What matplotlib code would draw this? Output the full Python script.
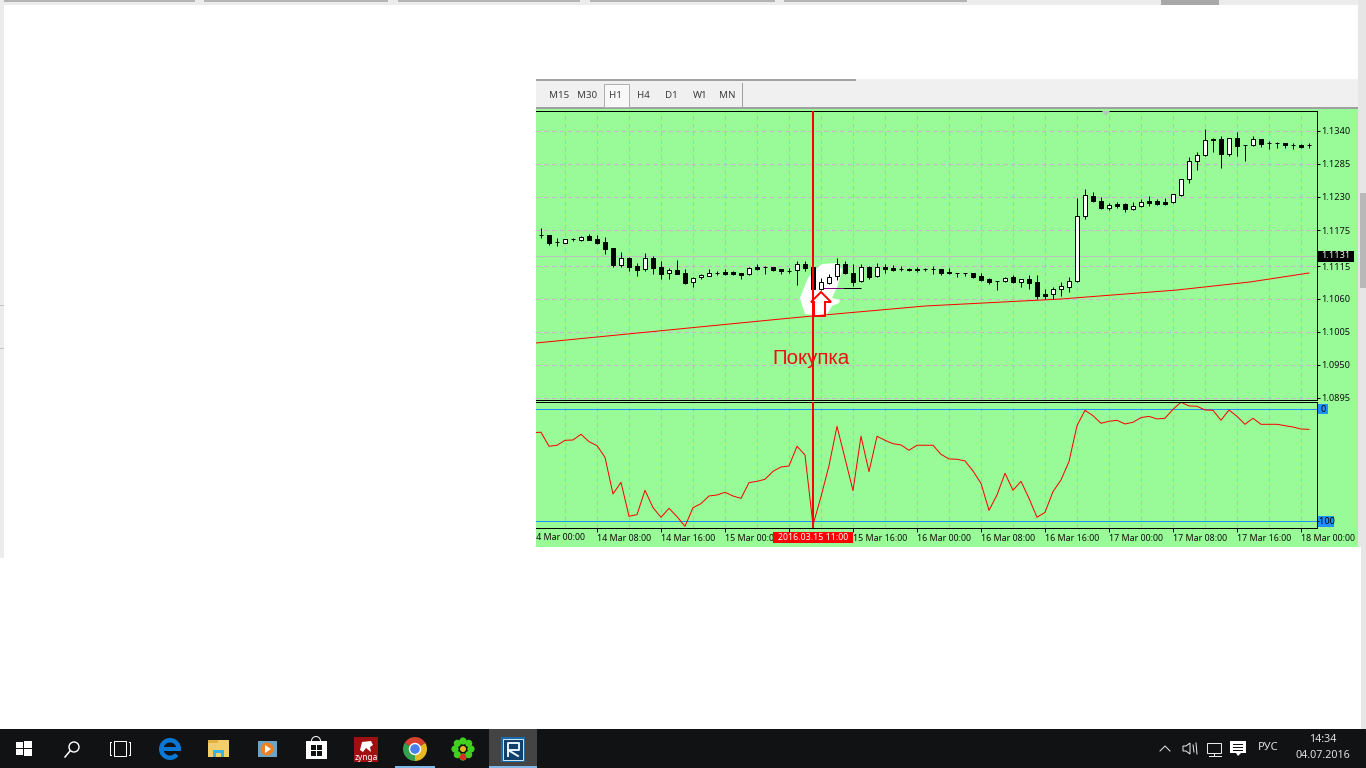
import numpy as np
import matplotlib
matplotlib.use('Agg')
import matplotlib.pyplot as plt
from matplotlib.patches import Rectangle, Polygon, Circle, Wedge

plt.rcParams['font.family'] = ['Noto Sans', 'DejaVu Sans']

# ==============================================================================
# Data (EURUSD H1 candles, hour 1 = 14 Mar 01:00)
# ==============================================================================
opens = [1.11661, 1.11661, 1.11556, 1.11539, 1.11594, 1.11583, 1.1165, 1.11594, 1.11544, 1.1145,
         1.11172, 1.11283, 1.1115, 1.11094, 1.11283, 1.11133, 1.11028, 1.11078, 1.11033, 1.10878,
         1.10961, 1.10989, 1.11033, 1.1105, 1.1105, 1.11028, 1.11011, 1.11128, 1.11133, 1.11128,
         1.11094, 1.11072, 1.11078, 1.11178, 1.11133, 1.10767, 1.10872, 1.10983, 1.11178, 1.11028,
         1.10894, 1.11133, 1.10978, 1.11133, 1.11117, 1.111, 1.111, 1.111, 1.11094, 1.11094,
         1.11094, 1.1105, 1.11028, 1.11028, 1.11028, 1.10983, 1.10928, 1.109, 1.10894, 1.10961,
         1.10889, 1.10928, 1.10878, 1.10683, 1.10678, 1.10761, 1.10806, 1.10894, 1.11977, 1.12311,
         1.12228, 1.12122, 1.12189, 1.12177, 1.12105, 1.12144, 1.12233, 1.12239, 1.12211, 1.12211,
         1.12339, 1.12594, 1.12894, 1.12994, 1.13266, 1.13261, 1.13011, 1.13277, 1.13161, 1.13161,
         1.13266, 1.132, 1.132, 1.13194, 1.13166, 1.13166, 1.13161]
closes = [1.11661, 1.11539, 1.11556, 1.11594, 1.11594, 1.11639, 1.11589, 1.11539, 1.11439, 1.11172,
          1.11278, 1.11139, 1.11089, 1.11278, 1.11122, 1.11022, 1.11078, 1.11017, 1.10867, 1.10944,
          1.10994, 1.11028, 1.11033, 1.11022, 1.11022, 1.11006, 1.11111, 1.11106, 1.11133, 1.11089,
          1.11072, 1.11072, 1.11178, 1.11117, 1.10761, 1.10878, 1.10972, 1.11178, 1.11028, 1.10889,
          1.11128, 1.10972, 1.11128, 1.11106, 1.11089, 1.111, 1.11078, 1.11083, 1.11094, 1.11094,
          1.11039, 1.11028, 1.11028, 1.11028, 1.10972, 1.10922, 1.10889, 1.109, 1.10956, 1.10889,
          1.10928, 1.10867, 1.10656, 1.10656, 1.10761, 1.10811, 1.10894, 1.11977, 1.12327, 1.12233,
          1.12122, 1.12161, 1.12155, 1.121, 1.12144, 1.12211, 1.12205, 1.12183, 1.12183, 1.12344,
          1.12594, 1.12894, 1.12994, 1.13244, 1.13244, 1.13022, 1.13277, 1.13155, 1.13161, 1.13261,
          1.13189, 1.132, 1.132, 1.13166, 1.13166, 1.13139, 1.13161]
highs = [1.11778, 1.11661, 1.11611, 1.11606, 1.11617, 1.1165, 1.11678, 1.11661, 1.11628, 1.1145,
         1.11378, 1.113, 1.11206, 1.11367, 1.11317, 1.11228, 1.11117, 1.11244, 1.111, 1.10961,
         1.11017, 1.11094, 1.11061, 1.11094, 1.11067, 1.11028, 1.11128, 1.11189, 1.11144, 1.11133,
         1.11094, 1.11111, 1.11228, 1.11228, 1.11133, 1.10944, 1.11011, 1.11278, 1.11239, 1.11178,
         1.11189, 1.1115, 1.11194, 1.11183, 1.11172, 1.1115, 1.11111, 1.11139, 1.11122, 1.1115,
         1.111, 1.11117, 1.11033, 1.11033, 1.11028, 1.11028, 1.10956, 1.10906, 1.10967, 1.10994,
         1.10933, 1.11006, 1.10994, 1.10761, 1.10794, 1.10878, 1.10961, 1.12289, 1.12433, 1.12377,
         1.12294, 1.122, 1.12211, 1.12205, 1.12211, 1.12261, 1.12316, 1.12261, 1.12277, 1.12344,
         1.12594, 1.12961, 1.1305, 1.13433, 1.13277, 1.13311, 1.13277, 1.13389, 1.13166, 1.13311,
         1.13272, 1.13239, 1.13216, 1.13194, 1.13205, 1.13189, 1.13194]
lows = [1.11611, 1.115, 1.11489, 1.11533, 1.11567, 1.11567, 1.11583, 1.11517, 1.1135, 1.11139,
        1.11139, 1.11072, 1.10989, 1.11072, 1.11022, 1.10933, 1.10933, 1.11011, 1.10856, 1.108,
        1.10939, 1.10983, 1.11, 1.11006, 1.11006, 1.10933, 1.11, 1.11083, 1.11017, 1.11072,
        1.11017, 1.11033, 1.10839, 1.11072, 1.1075, 1.1075, 1.10856, 1.10917, 1.11022, 1.10822,
        1.10883, 1.10928, 1.10967, 1.11028, 1.11061, 1.11061, 1.11061, 1.11056, 1.11072, 1.11017,
        1.11006, 1.11011, 1.10972, 1.10983, 1.10956, 1.10894, 1.10856, 1.10756, 1.10878, 1.10872,
        1.10806, 1.10772, 1.10606, 1.10606, 1.10606, 1.10656, 1.10722, 1.10889, 1.11939, 1.12222,
        1.121, 1.12089, 1.12122, 1.12055, 1.12077, 1.12133, 1.12155, 1.12166, 1.12166, 1.12205,
        1.12322, 1.12533, 1.1275, 1.12983, 1.13055, 1.12783, 1.12989, 1.12983, 1.129, 1.13155,
        1.13139, 1.13105, 1.13122, 1.13122, 1.13105, 1.13122, 1.13116]

# moving average, read at a few hours along its length
ma_hours = [0, 31, 35, 49, 66, 80.5, 89.6, 97]
ma_values = [1.09862, 1.10267, 1.10317, 1.10483, 1.106, 1.1075, 1.10883, 1.11033]

# lower window, hours 0 to 97
wpr_values = [-20.8, -20.5, -33.0, -32.1, -27.7, -27.4, -22.3, -28.9, -32.4, -42.9,
              -75.6, -65.2, -95.5, -94.0, -72.3, -87.8, -96.4, -88.4, -95.8, -104.5,
              -87.8, -84.2, -77.4, -76.5, -74.1, -77.4, -79.5, -65.5, -64.3, -62.5,
              -55.4, -51.5, -50.6, -33.0, -40.8, -103.3, -78.0, -50.3, -15.2, -43.8,
              -72.6, -24.1, -55.7, -24.1, -27.7, -30.7, -31.8, -36.6, -32.1, -32.1,
              -32.1, -40.2, -44.3, -44.6, -46.1, -55.1, -66.1, -90.2, -76.5, -57.1,
              -72.3, -64.3, -79.5, -96.4, -92.0, -73.5, -63.1, -46.7, -14.6, -0.9,
              -5.7, -12.5, -10.7, -9.8, -13.1, -11.6, -7.4, -6.3, -8.6, -8.0,
              0.0, 6.3, 3.0, 2.7, -0.6, -0.9, -9.8, -0.6, -6.3, -13.4,
              -8.0, -13.4, -13.4, -13.4, -14.6, -15.8, -17.6, -17.9]

price_ticks = [1.134, 1.1285, 1.123, 1.1175, 1.1115, 1.106, 1.1005, 1.095, 1.0895]
time_ticks = [8, 16, 24, 32, 40, 48, 56, 64, 72, 80, 88, 96]
# 15 Mar 08:00 sits behind the red cross label in the terminal, so it stays blank
time_labels = ['14 Mar 08:00', '14 Mar 16:00', '15 Mar 00:00', '', '15 Mar 16:00',
               '16 Mar 00:00', '16 Mar 08:00', '16 Mar 16:00', '17 Mar 00:00', '17 Mar 08:00',
               '17 Mar 16:00', '18 Mar 00:00']
timeframes = ['M15', 'M30', 'H1', 'H4', 'D1', 'W1', 'MN']
bid_price = 1.1131
entry_hour = 35
entry_label = '2016.03.15 11:00'
level_price = 1.10783

GREEN = '#98FB98'
GRID = '#CDB4CD'
PX = 0.72  # one pixel line at dpi 100
DASH = (0, (4, 3))
W, H = 1366, 768

fig = plt.figure(figsize=(W / 100, H / 100), dpi=100, facecolor='white')


def px_axes(x0, y0, x1, y1, **kw):
    return fig.add_axes([x0 / W, 1 - y1 / H, (x1 - x0) / W, (y1 - y0) / H], **kw)


# ==============================================================================
# Screen behind the chart (pixel coordinates)
# ==============================================================================
bg = px_axes(0, 0, W, H, zorder=0)
bg.set_xlim(0, W)
bg.set_ylim(H, 0)
bg.axis('off')


def box(a, x0, y0, x1, y1, color, **kw):
    a.add_patch(Rectangle((x0, y0), x1 - x0, y1 - y0, facecolor=color, edgecolor='none', **kw))


box(bg, 0, 0, W, 5, '#ececec')
box(bg, 1161, 0, 1219, 5, '#a8a8a8')
for x0, x1 in [(0, 195), (204, 388), (398, 580), (590, 775), (784, 967)]:
    box(bg, x0, 0, x1, 2, '#b4b4b4')
box(bg, 0, 0, 4, 558, '#ececec')
box(bg, 0, 305, 4, 306, '#c4c4c4')
box(bg, 0, 348, 4, 349, '#c4c4c4')
box(bg, 1358, 0, W, 729, '#e6e6e6')
box(bg, 1360, 193, W, 288, '#b8b8b8')
box(bg, 1358, 547, 1361, 729, 'white')

# window holding the terminal
box(bg, 536, 79, 1358, 108, '#f0f0f0')
box(bg, 536, 79, 856, 81, '#a0a0a0')
box(bg, 536, 107, 1358, 109, '#a0a0a0')
box(bg, 536, 109, 1358, 547, GREEN)
box(bg, 742, 83, 743, 107, '#a0a0a0')
bg.add_patch(Rectangle((603.5, 83.5), 25, 23, facecolor='#f8f8f8', edgecolor='#b0b0b0', lw=PX))
for name, x in zip(timeframes, [559, 587, 615, 643, 671, 700, 727]):
    bg.text(x, 95, name, ha='center', va='center', fontsize=7, color='#404040')

# highlighted patch someone painted around the entry
bg_blob = [(822, 264), (838, 263), (842, 270), (838, 285), (832, 298), (840, 300), (839, 303),
           (832, 306), (826, 316), (805, 314), (802, 305), (800, 298), (805, 285), (808, 278), (815, 270)]

# ==============================================================================
# Price window
# ==============================================================================
ax = px_axes(536, 111, 1316.5, 399.5, zorder=1, facecolor=GREEN)
ax.set_xlim(0.375, 97.94)
ax.set_ylim(1.134 - 268.5 / 6000, 1.134 + 20 / 6000)

hours = np.arange(1, 98)
o = np.array(opens)
c = np.array(closes)
up = c >= o

ax.set_xticks(np.arange(4, 97, 4))
ax.set_yticks(price_ticks)
ax.set_yticklabels(['%.4f' % p for p in price_ticks], fontsize=6.6)
ax.yaxis.tick_right()
ax.tick_params(axis='y', length=2.5, width=PX, pad=1, color='black', labelcolor='#101010')
ax.tick_params(axis='x', length=0, labelbottom=False)
ax.grid(True, color=GRID, lw=0.8, ls=DASH)
ax.set_axisbelow(True)
ax.spines['left'].set_visible(False)
for s in ['top', 'bottom', 'right']:
    ax.spines[s].set_linewidth(PX)

# patch under the candles, in pixel coordinates
ax.add_patch(Polygon(bg_blob, closed=True, facecolor='white', edgecolor='none',
                     transform=bg.transData, zorder=1.6))

ax.axhline(bid_price, color='#C0C0C0', lw=PX, zorder=1.7)
ax.plot(ma_hours, ma_values, color='red', lw=PX, zorder=2)
ax.hlines(level_price, 36.3, 38.8, color='#800080', lw=PX, zorder=2)
ax.hlines(level_price, 38.8, 41.0, color='black', lw=PX, zorder=2)

ax.vlines(hours, lows, highs, color='black', lw=PX, zorder=3)
ax.bar(hours, c - o, bottom=o, width=0.6, color=np.where(up, 'white', 'black'),
       edgecolor='black', lw=PX, zorder=4)

ax.axvline(entry_hour, color='red', lw=2 * PX, zorder=5)

# ==============================================================================
# Lower window
# ==============================================================================
ax2 = px_axes(536, 401.5, 1316.5, 528, zorder=2, facecolor=GREEN)
ax2.set_xlim(0.375, 97.94)
ax2.set_ylim(-(528 - 409.3) / 1.12, (409.3 - 401.5) / 1.12)
ax2.set_xticks(np.arange(4, 97, 4), minor=True)
ax2.set_xticks(time_ticks)
ax2.set_xticklabels(time_labels, ha='left', fontsize=6.4, color='#101010')
ax2.tick_params(axis='x', which='major', length=3, width=PX, pad=1)
ax2.tick_params(axis='x', which='minor', length=0)
ax2.set_yticks([])
ax2.grid(True, axis='x', which='both', color=GRID, lw=0.8, ls=DASH)
ax2.set_axisbelow(True)
ax2.spines['left'].set_visible(False)
for s in ['top', 'bottom', 'right']:
    ax2.spines[s].set_linewidth(PX)
ax2.axhline(0, color='#1E90FF', lw=PX)
ax2.axhline(-100, color='#1E90FF', lw=PX)
ax2.plot(np.arange(0, 98), wpr_values, color='red', lw=PX)
ax2.axvline(entry_hour, color='red', lw=2 * PX, zorder=5)

# ==============================================================================
# Overlay: labels on the axes, arrow, taskbar (pixel coordinates)
# ==============================================================================
top = px_axes(0, 0, W, H, zorder=5)
top.set_xlim(0, W)
top.set_ylim(H, 0)
top.axis('off')
top.patch.set_alpha(0)

# first time label is cut off by the window edge
top.text(531, 537.5, '14 Mar 00:00', ha='left', va='center', fontsize=6.4, color='#101010', zorder=3)
box(top, 524, 530, 536, 545, 'white', zorder=4)

box(top, 773, 532, 853, 543, 'red', zorder=4)
top.text(813, 537.5, entry_label, ha='center', va='center', fontsize=6.4, color='white', zorder=5)

box(top, 1318, 250.5, 1354, 261.5, 'black', zorder=4)
top.text(1336, 256, '%.4f' % bid_price, ha='center', va='center', fontsize=6.6, color='#E8FFE8', zorder=5)

box(top, 1318, 404, 1328, 414, '#1E90FF')
top.text(1323, 409, '0', ha='center', va='center', fontsize=6.6, color='black')
box(top, 1318, 516, 1334, 527, '#1E90FF')
top.text(1326, 521.5, '-100', ha='center', va='center', fontsize=6.6, color='black')

top.add_patch(Polygon([(1102, 111), (1110, 111), (1106, 116)], closed=True, facecolor='#c0c0c0', edgecolor='none'))

# buy arrow and label
top.add_patch(Polygon([(821, 292), (831, 302), (825, 302), (825, 316), (814, 316), (814, 302), (811, 302)],
                      closed=True, facecolor='none', edgecolor='red', lw=1.4))
top.text(811.5, 358, 'Покупка', ha='center', va='center', fontsize=14.8, color='#EE1111',
         family=['Liberation Sans', 'DejaVu Sans'])

# taskbar
box(top, 0, 729, W, H, '#101214', zorder=4)
box(top, 489, 729, 537, H, '#444444', zorder=4)
box(top, 395, 766, 435, H, '#7fb8e8', zorder=4)
box(top, 489, 766, 537, H, '#7fb8e8', zorder=4)

icons = px_axes(0, 0, W, H, zorder=6)
icons.set_xlim(0, W)
icons.set_ylim(H, 0)
icons.axis('off')
icons.patch.set_alpha(0)

# start button
for x0, y0, x1, y1 in [(16, 742, 23, 748), (24, 741, 32, 748), (16, 749, 23, 755), (24, 749, 32, 756)]:
    box(icons, x0, y0, x1, y1, 'white')
# search
icons.add_patch(Circle((74, 747), 5, facecolor='none', edgecolor='white', lw=1))
icons.plot([70, 65], [751, 757], color='white', lw=1.1)
# task view
icons.add_patch(Rectangle((114, 741), 12, 15, facecolor='none', edgecolor='white', lw=PX))
icons.plot([111, 110, 110, 111], [742, 742, 755, 755], color='white', lw=PX)
icons.plot([129, 130, 130, 129], [742, 742, 755, 755], color='white', lw=PX)
# edge
icons.add_patch(Wedge((170, 749), 11, 40, 360, width=4.5, facecolor='#0a78d4', edgecolor='none'))
box(icons, 161, 747, 181, 751, '#0a78d4')
# explorer
box(icons, 208, 740, 229, 757, '#f3cf6b')
box(icons, 208, 740, 218, 743, '#e0b040')
box(icons, 213, 750, 224, 757, '#35b4e8')
box(icons, 216, 753, 221, 757, '#f3cf6b')
# media
box(icons, 258, 741, 277, 757, '#6aa5c8')
icons.add_patch(Circle((267, 749), 6.5, facecolor='#f08020', edgecolor='none'))
icons.add_patch(Polygon([(265, 745), (265, 753), (271, 749)], closed=True, facecolor='white', edgecolor='none'))
# store
box(icons, 306, 741, 327, 759, 'white')
icons.add_patch(Wedge((316, 741), 5, 180, 360, width=1, facecolor='white', edgecolor='none'))
for x0, y0 in [(311, 745), (317, 745), (311, 751), (317, 751)]:
    box(icons, x0, y0, x0 + 5, y0 + 5, '#101214')
# zynga
box(icons, 354, 737, 378, 762, '#a01010')
icons.text(366, 757, 'zynga', ha='center', va='center', fontsize=6, color='white', fontweight='bold')
icons.add_patch(Polygon([(360, 750), (362, 742), (371, 741), (373, 745), (370, 747), (371, 752), (366, 748), (363, 752)],
                        closed=True, facecolor='white', edgecolor='none'))
# chrome
icons.add_patch(Wedge((415, 749), 12, 210, 330, facecolor='#d84030', edgecolor='none'))
icons.add_patch(Wedge((415, 749), 12, 330, 450, facecolor='#e8b820', edgecolor='none'))
icons.add_patch(Wedge((415, 749), 12, 90, 210, facecolor='#34a050', edgecolor='none'))
icons.add_patch(Circle((415, 749), 5.5, facecolor='#4a80e8', edgecolor='white', lw=1))
# icq flower
for ang in np.arange(0, 360, 45):
    icons.add_patch(Circle((463 + 8 * np.cos(np.radians(ang)), 749 + 8 * np.sin(np.radians(ang))), 3.6,
                           facecolor='#40d020', edgecolor='none'))
icons.add_patch(Circle((463, 749), 3, facecolor='#e8b820', edgecolor='none'))
icons.add_patch(Circle((463, 757), 3.2, facecolor='#d83020', edgecolor='none'))
# terminal
box(icons, 501, 737, 525, 762, '#1f6aa5')
icons.add_patch(Rectangle((503, 739), 20, 21, facecolor='#12406a', edgecolor='#c8e4f4', lw=PX))
icons.plot([508, 508, 519, 519, 508, 518], [756, 743, 743, 750, 750, 756], color='#e8f4fc', lw=1.4)

# tray
icons.plot([1160, 1165, 1170], [751, 746, 751], color='#e8e8e8', lw=PX)
icons.add_patch(Polygon([(1183, 746), (1186, 746), (1190, 743), (1190, 754), (1186, 751), (1183, 751)],
                        closed=True, facecolor='none', edgecolor='#e8e8e8', lw=PX))
icons.plot([1193, 1194], [745, 752], color='#e8e8e8', lw=PX)
icons.plot([1196, 1197], [743, 754], color='#e8e8e8', lw=PX)
icons.add_patch(Rectangle((1207, 743), 14, 10, facecolor='none', edgecolor='#e8e8e8', lw=PX))
icons.plot([1214, 1214], [753, 756], color='#e8e8e8', lw=PX)
icons.plot([1209, 1221], [756, 756], color='#e8e8e8', lw=PX)
box(icons, 1230, 741, 1246, 753, 'white')
icons.add_patch(Polygon([(1236, 753), (1241, 753), (1238, 756)], closed=True, facecolor='white', edgecolor='none'))
for y in [744, 747, 750]:
    box(icons, 1233, y, 1243, y + 1, '#101214')
icons.text(1268, 748, 'РУС', ha='center', va='center', fontsize=8, color='#e0e0e0')
icons.text(1323, 739, '14:34', ha='center', va='center', fontsize=7.7, color='#e0e0e0')
icons.text(1323, 756, '04.07.2016', ha='center', va='center', fontsize=7.7, color='#e0e0e0')

plt.savefig('out.png', dpi=100)
